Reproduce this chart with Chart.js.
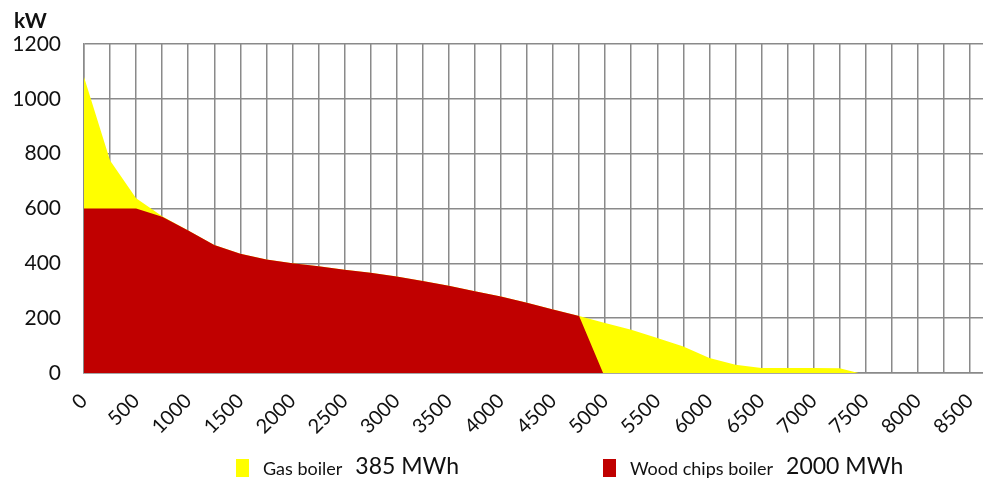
<!DOCTYPE html>
<html>
<head>
<meta charset="utf-8">
<script src="https://cdn.jsdelivr.net/npm/chart.js@4.4.1/dist/chart.umd.min.js"></script>
<style>
  html, body { margin: 0; padding: 0; background: #fff; }
  #wrap { position: relative; width: 983px; height: 479px; overflow: hidden; }
  #c { display: block; }
  .unit { position: absolute; left: 14px; top: 7px; font: bold 21px Lato, sans-serif; color: #111; }
  .legend { position: absolute; top: 452px; left: 0; width: 983px; height: 27px; font-family: Lato, sans-serif; color: #111; }
  .item { position: absolute; top: 0; white-space: nowrap; display: flex; align-items: flex-end; height: 27px; }
  .sw { display: inline-block; width: 13px; height: 18px; margin-right: 14px; margin-bottom: 2px; }
  .name { font-size: 18px; margin-right: 13px; }
  .energy { font-size: 23px; }
</style>
</head>
<body>
<div id="wrap">
  <canvas id="c" width="983" height="479"></canvas>
  <div class="unit">kW</div>
  <div class="legend" id="legend"></div>
</div>
<script>
// Load duration curve: hours of the year (sorted by load) vs. heat demand in kW
const hours   = [0, 250, 500, 750, 1000, 1250, 1500, 1750, 2000, 2250, 2500, 2750, 3000, 3250, 3500, 3750, 4000, 4250, 4500, 4750, 4980, 5250, 5500, 5750, 6000, 6250, 6500, 6750, 7000, 7250, 7430];
// total demand (the part above the wood chips output is covered by the gas boiler)
const loadKw  = [1080, 775, 637, 572, 520, 467, 435, 414, 400, 389, 377, 366, 352, 336, 318, 298, 279, 256, 232, 208, 184, 158, 128, 97, 55, 30, 18, 18, 18, 17, 0];
// output of the wood chips boiler
const woodKw  = [600, 600, 600, 570, 520, 467, 435, 414, 400, 389, 377, 366, 352, 336, 318, 298, 279, 256, 232, 208, 0, 0, 0, 0, 0, 0, 0, 0, 0, 0, 0];

const seriesNames  = ['Gas boiler', 'Wood chips boiler'];
const seriesEnergy = ['385 MWh', '2000 MWh'];
const seriesColors = ['#ffff00', '#c00000'];

const xTickStep = 250;
const xLabelStep = 500;
const xMax = 8625;
const yMax = 1200;
const yStep = 200;

const toPoints = (ys) => hours.map((h, i) => ({ x: h, y: ys[i] }));

const gridColor = '#8a8a8a';
const tickFont = { family: 'Lato', size: 20 };

new Chart(document.getElementById('c'), {
  type: 'line',
  data: {
    datasets: [
      {
        label: seriesNames[1],
        data: toPoints(woodKw),
        backgroundColor: seriesColors[1],
        borderWidth: 0,
        pointRadius: 0,
        fill: 'origin',
        tension: 0,
        order: 1
      },
      {
        label: seriesNames[0],
        data: toPoints(loadKw),
        backgroundColor: seriesColors[0],
        borderWidth: 0,
        pointRadius: 0,
        fill: 'origin',
        tension: 0,
        order: 2
      }
    ]
  },
  options: {
    responsive: false,
    animation: false,
    layout: { padding: { top: 44, right: 0, bottom: 0, left: 0 } },
    plugins: { legend: { display: false }, tooltip: { enabled: false } },
    scales: {
      x: {
        type: 'linear',
        min: 0,
        max: xMax,
        afterBuildTicks: (scale) => {
          const t = [];
          for (let v = 0; v <= xMax; v += xTickStep) t.push({ value: v });
          scale.ticks = t;
        },
        afterFit: (scale) => { scale.height = 106; scale.paddingRight = 0; },
        grid: { color: gridColor, lineWidth: 1.5, drawTicks: false },
        border: { color: gridColor, width: 1.5 },
        ticks: {
          autoSkip: false,
          minRotation: 45,
          maxRotation: 45,
          padding: 16,
          color: '#111',
          font: tickFont,
          callback: (v) => (v % xLabelStep === 0 ? String(v) : '')
        }
      },
      y: {
        min: 0,
        max: yMax,
        afterFit: (scale) => { scale.width = 84; },
        grid: { color: gridColor, lineWidth: 1.5, drawTicks: false },
        border: { color: gridColor, width: 1.5 },
        ticks: {
          stepSize: yStep,
          padding: 23,
          color: '#111',
          font: { family: 'Lato', size: 21 },
          callback: (v) => String(v)
        }
      }
    }
  }
});

// legend with the yearly energy of each boiler
const legendLeft = [236, 603];
const legend = document.getElementById('legend');
seriesNames.forEach((name, i) => {
  const item = document.createElement('div');
  item.className = 'item';
  item.style.left = legendLeft[i] + 'px';
  const sw = document.createElement('span');
  sw.className = 'sw';
  sw.style.background = seriesColors[i];
  const n = document.createElement('span');
  n.className = 'name';
  n.textContent = name;
  const e = document.createElement('span');
  e.className = 'energy';
  e.textContent = seriesEnergy[i];
  item.append(sw, n, e);
  legend.appendChild(item);
});
</script>
</body>
</html>
